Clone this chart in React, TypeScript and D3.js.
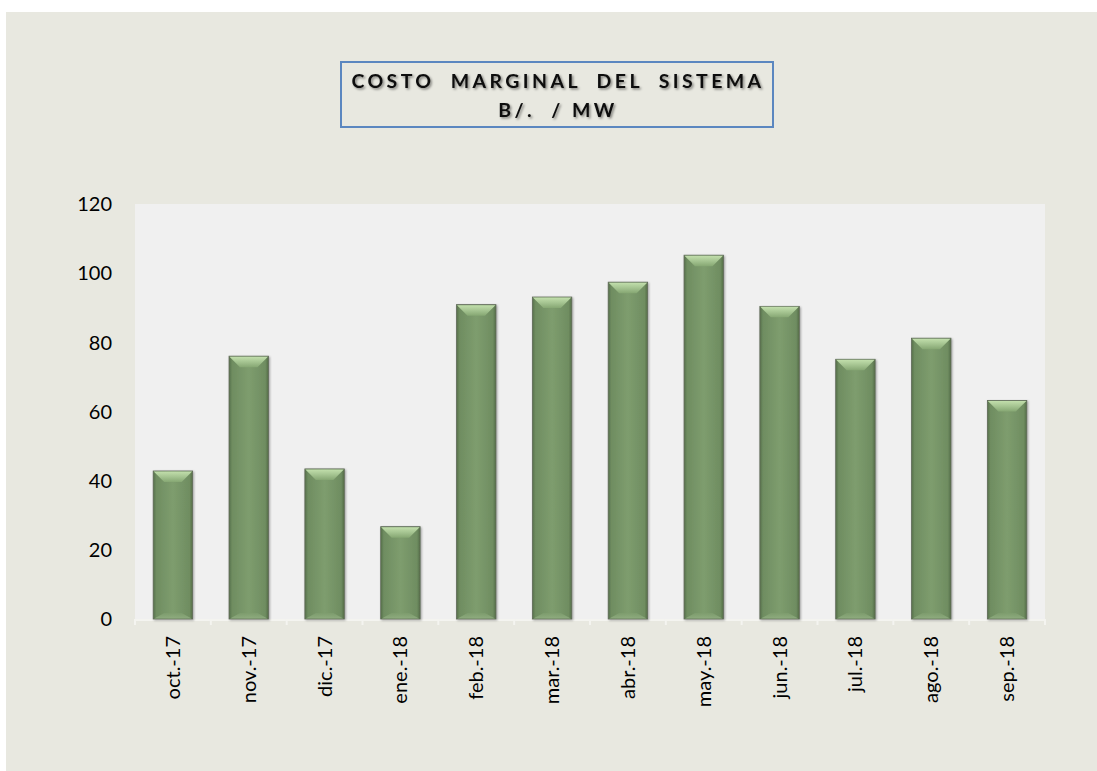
import * as d3 from "d3";

const months = [
  "oct.-17", "nov.-17", "dic.-17", "ene.-18", "feb.-18", "mar.-18",
  "abr.-18", "may.-18", "jun.-18", "jul.-18", "ago.-18", "sep.-18",
];
const costo = [42.8, 76, 43.4, 26.7, 90.9, 93.1, 97.4, 105.2, 90.4, 75.1, 81.2, 63.2];
const yTicks = [0, 20, 40, 60, 80, 100, 120];
const titleLines = ["COSTO  MARGINAL  DEL  SISTEMA", "B/.  / MW"];

const W = 1097;
const H = 771;
const plot = { left: 135, right: 1045, top: 204, bottom: 619 };
const font = "Lato, 'Open Sans', sans-serif";

export default function App() {
  const x = d3
    .scaleBand<string>()
    .domain(months)
    .range([plot.left, plot.right])
    .paddingInner(0.48)
    .paddingOuter(0.24);
  const y = d3.scaleLinear().domain([0, 120]).range([plot.bottom, plot.top]);
  const step = x.step();
  const bevel = 11;

  return (
    <svg
      width={W}
      height={H}
      style={{ position: "absolute", left: 0, top: 0, display: "block" }}
    >
      <defs>
        <linearGradient id="barGrad" x1="0" x2="1" y1="0" y2="0">
          <stop offset="0" stopColor="#56704a" />
          <stop offset="0.08" stopColor="#6f8d61" />
          <stop offset="0.5" stopColor="#7e9d6e" />
          <stop offset="0.92" stopColor="#6f8d61" />
          <stop offset="1" stopColor="#546d47" />
        </linearGradient>
        <linearGradient id="bevelGrad" x1="0" x2="0" y1="0" y2="1">
          <stop offset="0" stopColor="#c2dfac" />
          <stop offset="0.5" stopColor="#a5c491" />
          <stop offset="1" stopColor="#86a773" />
        </linearGradient>
        <linearGradient id="bevelBot" x1="0" x2="0" y1="0" y2="1">
          <stop offset="0" stopColor="#7e9d6e" />
          <stop offset="1" stopColor="#93b083" />
        </linearGradient>
        <filter id="shadow" x="-20%" y="-5%" width="140%" height="110%">
          <feDropShadow dx="1" dy="1" stdDeviation="1.2" floodColor="#000" floodOpacity="0.35" />
        </filter>
        <filter id="txtShadow" x="-5%" y="-20%" width="110%" height="160%">
          <feDropShadow dx="1.5" dy="1.5" stdDeviation="1.3" floodColor="#000" floodOpacity="0.45" />
        </filter>
      </defs>

      {/* outer background */}
      <rect x={6} y={12} width={W - 6} height={H - 12} fill="#e8e8e0" />

      {/* title box */}
      <rect x={341} y={62} width={432} height={65} fill="none" stroke="#5b87c0" strokeWidth={2} />
      {titleLines.map((t, i) => (
        <text
          key={t}
          x={558}
          y={88 + i * 29}
          textAnchor="middle"
          fontFamily={font}
          fontWeight="bold"
          fontSize={19.5}
          letterSpacing={3.4}
          fill="#111"
          filter="url(#txtShadow)"
          style={{ whiteSpace: "pre" }}
        >
          {t}
        </text>
      ))}

      {/* plot area */}
      <rect
        x={plot.left}
        y={plot.top}
        width={plot.right - plot.left}
        height={plot.bottom - plot.top}
        fill="#f0f0f0"
      />

      {/* y axis labels */}
      {yTicks.map((t) => (
        <text
          key={t}
          x={112}
          y={y(t)}
          dy="0.36em"
          textAnchor="end"
          fontFamily={font}
          fontSize={20}
          fill="#000"
        >
          {t}
        </text>
      ))}

      {/* x axis line and ticks */}
      <line x1={plot.left} x2={plot.right} y1={plot.bottom + 1} y2={plot.bottom + 1} stroke="#f4f4f0" strokeWidth={2} />
      {d3.range(months.length + 1).map((i) => (
        <line
          key={i}
          x1={plot.left + i * step}
          x2={plot.left + i * step}
          y1={plot.bottom}
          y2={plot.bottom + 6}
          stroke="#f4f4f0"
          strokeWidth={2}
        />
      ))}

      {/* bars */}
      {months.map((m, i) => {
        const bx = x(m)!;
        const bw = x.bandwidth();
        const by = y(costo[i]);
        const bh = y(0) - by;
        const y0 = y(0);
        return (
          <g key={m}>
            <rect
              x={bx}
              y={by}
              width={bw}
              height={bh}
              fill="url(#barGrad)"
              stroke="#5f6a58"
              strokeWidth={0.8}
              filter="url(#shadow)"
            />
            <polygon
              points={`${bx + 0.5},${by + 0.5} ${bx + bw - 0.5},${by + 0.5} ${bx + bw - bevel},${by + bevel} ${bx + bevel},${by + bevel}`}
              fill="url(#bevelGrad)"
            />
            <polygon
              points={`${bx + bevel},${y0 - 6} ${bx + bw - bevel},${y0 - 6} ${bx + bw - 1},${y0 - 0.5} ${bx + 1},${y0 - 0.5}`}
              fill="url(#bevelBot)"
              opacity={0.8}
            />
          </g>
        );
      })}

      {/* x axis labels */}
      {months.map((m) => {
        const cx = x(m)! + x.bandwidth() / 2;
        return (
          <text
            key={m}
            transform={`translate(${cx + 7},${plot.bottom + 17}) rotate(-90)`}
            textAnchor="end"
            fontFamily={font}
            fontSize={20}
            fill="#000"
          >
            {m}
          </text>
        );
      })}
    </svg>
  );
}
